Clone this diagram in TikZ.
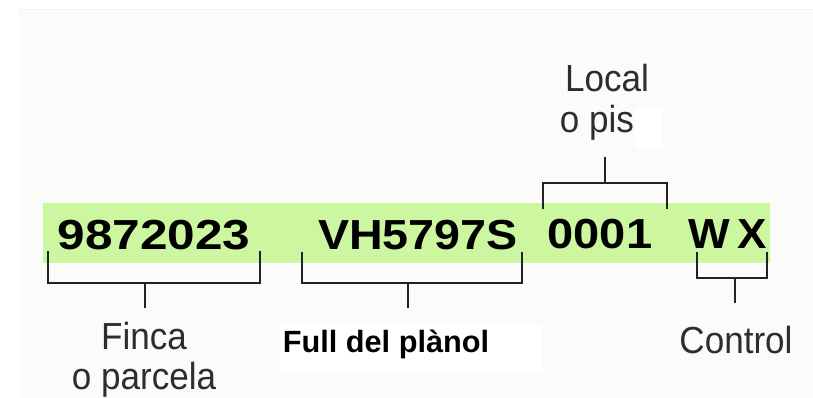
\documentclass[tikz,border=0pt]{standalone}
\usepackage{fontspec}
\setmainfont{Liberation Sans}
\definecolor{band}{RGB}{204,247,160}
\definecolor{bg}{RGB}{251,251,249}
\definecolor{topline}{RGB}{228,247,247}
\definecolor{ink}{RGB}{34,34,34}
\definecolor{lab}{RGB}{45,45,45}
\tikzset{
  codetxt/.style={anchor=base, inner sep=0pt, text=black, font=\fontsize{42}{48}\selectfont\bfseries},
  labtxt/.style={anchor=base, inner sep=0pt, text=lab, font=\fontsize{37.7}{45}\selectfont},
  boldlab/.style={anchor=base, inner sep=0pt, text=black, font=\fontsize{30.7}{36}\selectfont\bfseries},
  brack/.style={draw=ink, line width=1.6pt, line cap=rect},
  stem/.style={draw=ink, line width=1.6pt}
}
\begin{document}
\begin{tikzpicture}[x=1pt,y=-1pt]
\useasboundingbox (0,0) rectangle (813,398);
\fill[white] (0,0) rectangle (813,398);
\fill[bg] (19,10) rectangle (813,398);
\draw[topline, line width=1pt] (19,10) -- (813,10);
% white patches
\fill[white] (280,325) rectangle (542,372);
\fill[white] (635,108) rectangle (662,148);
% green band
\fill[band] (43,203) rectangle (770,263);
% code texts
\node[codetxt] (c1) at (154,249) {\scalebox{1.18}[1]{9872023}};
\node[codetxt] (c2) at (418,249) {\scalebox{1.11}[1]{VH5797S}};
\node[codetxt] (c3) at (600,248) {\scalebox{1.12}[1]{0001}};
\node[codetxt] (c4) at (728,248) {\scalebox{1.05}[1]{W\,X}};
% labels
\node[labtxt] (finca) at (144,349) {\scalebox{0.93}[1]{Finca}};
\node[labtxt] (parcela) at (144,389) {\scalebox{0.93}[1]{o parcela}};
\node[boldlab] (full) at (386,352) {Full del plànol};
\node[labtxt] (local) at (607,92) {\scalebox{0.93}[1]{Local}};
\node[labtxt] (pis) at (597,133) {\scalebox{0.93}[1]{o pis}};
\node[labtxt] (control) at (736,353) {\scalebox{0.93}[1]{Control}};
% bracket coordinates
\coordinate (b1l) at (48,252); \coordinate (b1r) at (260,252);
\coordinate (b1m) at (145,283); \coordinate (b1e) at (145,308);
\coordinate (b2l) at (302,253); \coordinate (b2r) at (522,253);
\coordinate (b2m) at (408,283); \coordinate (b2e) at (408,308);
\coordinate (b3l) at (543,208); \coordinate (b3r) at (667,208);
\coordinate (b3m) at (605,183); \coordinate (b3e) at (605,157);
\coordinate (b4l) at (697,253); \coordinate (b4r) at (767,253);
\coordinate (b4m) at (735,278); \coordinate (b4e) at (735,303);
% brackets
\draw[brack] (b1l) |- (b1m) -| (b1r);
\draw[stem] (b1m) -- (b1e);
\draw[brack] (b2l) |- (b2m) -| (b2r);
\draw[stem] (b2m) -- (b2e);
\draw[brack] (b3l) |- (b3m) -| (b3r);
\draw[stem] (b3m) -- (b3e);
\draw[brack] (b4l) |- (b4m) -| (b4r);
\draw[stem] (b4m) -- (b4e);
\end{tikzpicture}
\end{document}
